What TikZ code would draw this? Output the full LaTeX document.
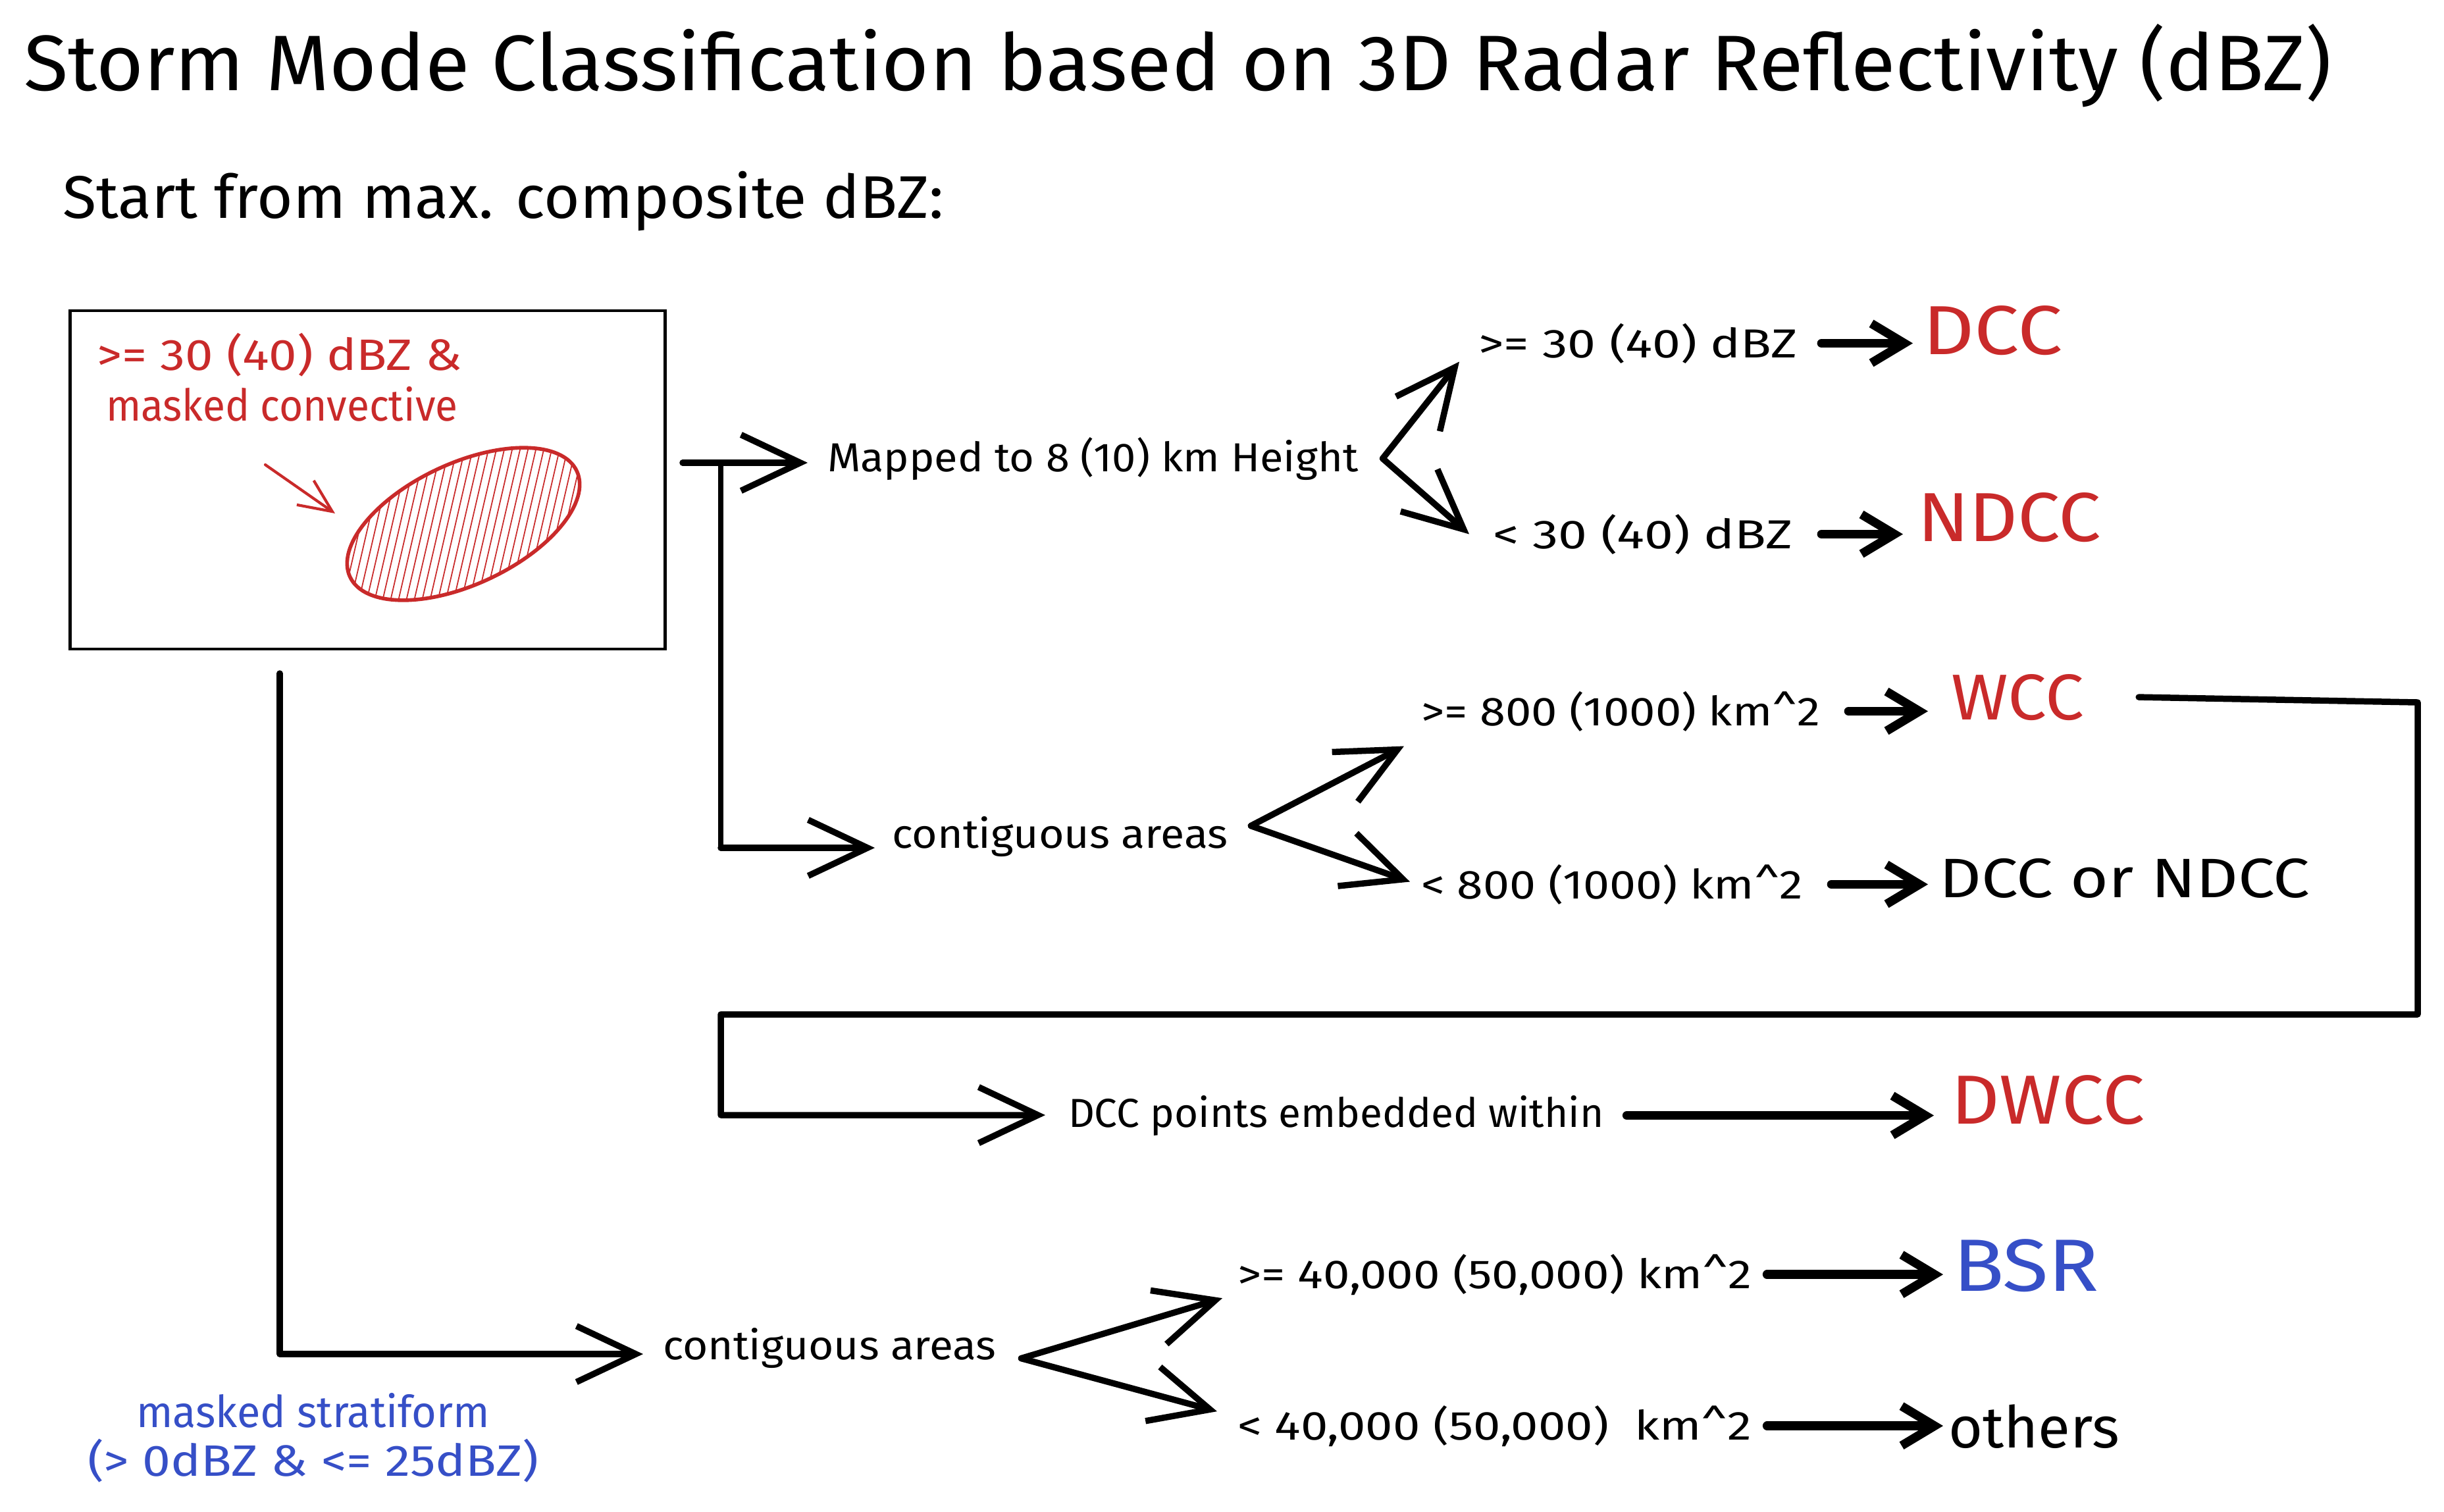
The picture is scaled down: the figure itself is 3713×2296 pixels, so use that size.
\documentclass[tikz,border=0pt]{standalone}
\usepackage{fontspec}
\setmainfont{Fira Sans}
\usetikzlibrary{arrows.meta,calc}
\definecolor{exred}{HTML}{C92A2A}
\definecolor{exblue}{HTML}{364FC7}
\newcommand\fitw[2]{\resizebox{#1}{\height}{#2}}
\begin{document}
\begin{tikzpicture}[x=0.01cm,y=-0.01cm,
  txt/.style={anchor=base west, inner sep=0pt, outer sep=0pt},
  small/.style={txt, font=\fontsize{17.5}{21}\selectfont},
  big/.style={txt, font=\fontsize{30}{36}\selectfont},
  conn/.style={line width=2.7pt, line cap=round, line join=round, -{Straight Barb[length=0.9cm,width=0.85cm]}},
  shortconn/.style={line width=3.8pt, line cap=round, line join=round, -{Straight Barb[length=0.5cm,width=0.6cm]}},
  plain/.style={line width=2.4pt, line cap=round, line join=round},
  hatch/.style={exred, line width=0.5pt},
]
\useasboundingbox (0,0) rectangle (3713,2296);

% titles
\node[txt, font=\fontsize{34}{40}\selectfont] (title) at (36,137) {\fitw{35.04cm}{Storm Mode Classification based on 3D Radar Reflectivity (dBZ)}};
\node[txt, font=\fontsize{26}{31}\selectfont] (start) at (95,331) {\fitw{13.38cm}{Start from max. composite dBZ:}};

% box with convective blob
\node[draw, line width=1.3pt, minimum width=9.03cm, minimum height=5.14cm, inner sep=0pt] (box) at (558.5,729) {};
\node[txt, exred, font=\fontsize{19}{22}\selectfont] (conv1) at (147,562) {\fitw{5.55cm}{>= 30 (40) dBZ \&}};
\node[txt, exred, font=\fontsize{19}{22}\selectfont] (conv2) at (161,639) {\fitw{5.34cm}{masked convective}};
\coordinate (blobc) at (704,796);
\begin{scope}
  \clip[rotate around={25:(blobc)}] (blobc) ellipse [x radius=1.9cm, y radius=0.92cm];
  \foreach \k in {-20,...,20} \draw[hatch] ({704+\k*12+60},{796-260}) -- ++(-120,520);
\end{scope}
\draw[exred, line width=1.6pt, rotate around={25:(blobc)}] (blobc) ellipse [x radius=1.9cm, y radius=0.92cm];
\coordinate (ra) at (403,706);
\coordinate (rb) at (509,780);
\draw[exred, line width=1.2pt, line cap=round, -{Straight Barb[length=0.5cm,width=0.45cm]}] (ra) -- (rb);

% text nodes
\node[small] (mapped) at (1257,716) {\fitw{8.06cm}{Mapped to 8 (10) km Height}};
\node[small] (ge30) at (2246,543) {\fitw{4.84cm}{>= 30 (40) dBZ}};
\node[big, exred] (dcc) at (2921,538) {\fitw{2.12cm}{DCC}};
\node[small] (lt30) at (2268,833) {\fitw{4.55cm}{< 30 (40) dBZ}};
\node[big, exred] (ndcc) at (2913,822) {\fitw{2.79cm}{NDCC}};
\node[small] (cont1) at (1355,1288) {\fitw{5.10cm}{contiguous areas}};
\node[small] (ge800) at (2159,1102) {\fitw{6.06cm}{>= 800 (1000) km\textasciicircum 2}};
\node[txt, exred, font=\fontsize{28}{34}\selectfont] (wcc) at (2964,1093) {\fitw{2.02cm}{WCC}};
\node[small] (lt800) at (2159,1365) {\fitw{5.80cm}{< 800 (1000) km\textasciicircum 2}};
\node[txt, font=\fontsize{24}{29}\selectfont] (dccor) at (2946,1363) {\fitw{5.63cm}{DCC or NDCC}};
\node[small] (dccpts) at (1623,1712) {\fitw{8.13cm}{DCC points embedded within}};
\node[big, exred] (dwcc) at (2964,1707) {\fitw{2.94cm}{DWCC}};
\node[small] (cont2) at (1007,2065) {\fitw{5.06cm}{contiguous areas}};
\node[small] (ge40) at (1880,1957) {\fitw{7.81cm}{>= 40,000 (50,000) km\textasciicircum 2}};
\node[txt, exblue, font=\fontsize{32}{38}\selectfont] (bsr) at (2967,1961) {\fitw{2.22cm}{BSR}};
\node[small] (lt40) at (1880,2187) {\fitw{7.81cm}{< 40,000 (50,000)\ \ km\textasciicircum 2}};
\node[txt, font=\fontsize{25}{30}\selectfont] (others) at (2960,2199) {\fitw{2.60cm}{others}};
\node[txt, exblue, font=\fontsize{19}{22}\selectfont] (strat1) at (207,2168) {\fitw{5.37cm}{masked stratiform}};
\node[txt, exblue, font=\fontsize{19}{22}\selectfont] (strat2) at (133,2242) {\fitw{6.85cm}{(> 0dBZ \& <= 25dBZ)}};

% connectors: convective branch
\coordinate (jbox) at (1037,703);
\coordinate (jtop) at (1095,703);
\coordinate (jc1) at (1095,1288);
\draw[conn, shorten >=0.3cm] (jbox) -- (jbox -| mapped.west);
\draw[plain] (jtop) -- (jc1);
\draw[conn, shorten >=0.26cm] (jc1) -- (jc1 -| cont1.west);

\coordinate (jm) at ([xshift=0.37cm]mapped.east);
\draw[conn] (jm) -- ([xshift=-0.29cm,yshift=-0.28cm]ge30.west);
\draw[conn] (jm) -- ([xshift=-0.36cm]lt30.west);
\draw[shortconn, shorten <=0.37cm, shorten >=0.15cm] (ge30.east) -- (ge30.east -| dcc.west);
\draw[shortconn, shorten <=0.44cm, shorten >=0.22cm] (lt30.east) -- (lt30.east -| ndcc.west);

\coordinate (jc1b) at ([xshift=0.35cm,yshift=0.16cm]cont1.east);
\draw[conn] (jc1b) -- ([xshift=-0.26cm,yshift=-0.53cm]ge800.west);
\draw[conn] (jc1b) -- ([xshift=-0.17cm,yshift=0.04cm]lt800.west);
\draw[shortconn, shorten <=0.43cm, shorten >=0.35cm] (ge800.east) -- (ge800.east -| wcc.west);
\draw[shortconn, shorten <=0.43cm, shorten >=0.17cm] (lt800.east) -- (lt800.east -| dccor.west);

% WCC loop to DWCC
\coordinate (lr1) at (3673,1067);
\coordinate (lr2) at (3673,1541);
\coordinate (ll) at (1095,1541);
\coordinate (ll2) at (1095,1694);
\draw[conn, shorten >=0.35cm] ([xshift=0.83cm]wcc.east) -- (lr1) -- (lr2) -- (ll) -- (ll2) -- (ll2 -| dccpts.west);
\draw[shortconn, shorten <=0.35cm, shorten >=0.26cm] (dccpts.east) -- (dccpts.east -| dwcc.west);

% stratiform branch
\coordinate (jl) at (425,1023);
\coordinate (jl2) at (425,2057);
\draw[conn, shorten >=0.3cm] (jl) -- (jl2) -- (jl2 -| cont2.west);
\coordinate (jc2) at ([xshift=0.38cm,yshift=-0.16cm]cont2.east);
\draw[conn] (jc2) -- ([xshift=-0.23cm,yshift=-0.36cm]ge40.west);
\draw[conn] (jc2) -- ([xshift=-0.31cm,yshift=0.22cm]lt40.west);
\draw[shortconn, shorten <=0.23cm, shorten >=0.15cm] (ge40.east) -- (ge40.east -| bsr.west);
\draw[shortconn, shorten <=0.23cm, shorten >=0.08cm] (lt40.east) -- (lt40.east -| others.west);
\end{tikzpicture}
\end{document}
